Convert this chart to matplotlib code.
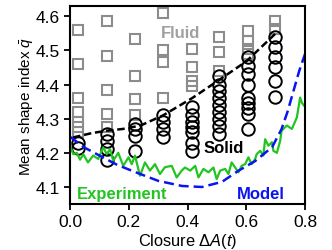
import matplotlib
matplotlib.use("Agg")
import matplotlib.pyplot as plt

plt.rcParams["font.family"] = ["Liberation Sans", "DejaVu Sans"]
plt.rcParams["mathtext.fontset"] = "custom"
plt.rcParams["mathtext.rm"] = "Liberation Sans"
plt.rcParams["mathtext.it"] = "Liberation Sans:italic"

# closure values of the simulation columns
cols = [0.027, 0.126, 0.221, 0.317, 0.415, 0.507, 0.606, 0.698]

# fluid states (squares), one list per column
fluid = [
    [4.56, 4.46, 4.36, 4.32, 4.29, 4.275, 4.26],
    [4.585, 4.483, 4.384, 4.313, 4.275],
    [4.533, 4.425, 4.357, 4.31],
    [4.61, 4.50, 4.465, 4.36],
    [4.503, 4.45, 4.41, 4.395],
    [4.54, 4.495, 4.44],
    [4.556, 4.527, 4.503, 4.49],
    [4.585, 4.562],
]

# solid states (circles)
solid = [
    [4.23, 4.215],
    [4.255, 4.235, 4.21, 4.18],
    [4.285, 4.27, 4.25, 4.205],
    [4.31, 4.29, 4.27, 4.245],
    [4.335, 4.31, 4.29, 4.275, 4.26, 4.23, 4.205],
    [4.425, 4.40, 4.38, 4.36, 4.34, 4.32, 4.30, 4.28, 4.255],
    [4.48, 4.455, 4.43, 4.40, 4.36, 4.345, 4.33, 4.315, 4.27],
    [4.54, 4.51, 4.48, 4.45, 4.41, 4.365],
]

# transition boundary
bx = [0.01, 0.075, 0.126, 0.18, 0.24, 0.317, 0.415, 0.51, 0.60, 0.70]
by = [4.245, 4.258, 4.265, 4.27, 4.28, 4.31, 4.36, 4.415, 4.468, 4.55]

# model curve
mx = [0, 0.05, 0.109, 0.16, 0.221, 0.30, 0.381, 0.449, 0.517, 0.572,
      0.63, 0.688, 0.72, 0.74, 0.76, 0.78, 0.8]
my = [4.247, 4.215, 4.188, 4.165, 4.144, 4.118, 4.103, 4.10, 4.115, 4.147,
      4.176, 4.217, 4.27, 4.32, 4.38, 4.44, 4.49]

# experiment
gx = [0, 0.011, 0.023, 0.034, 0.045, 0.061, 0.079, 0.096, 0.113, 0.125,
      0.136, 0.147, 0.164, 0.181, 0.199, 0.21, 0.221, 0.238, 0.255, 0.272,
      0.289, 0.306, 0.323, 0.346, 0.363, 0.38, 0.391, 0.409, 0.426, 0.437,
      0.454, 0.471, 0.488, 0.499, 0.511, 0.528, 0.539, 0.55, 0.562, 0.573,
      0.584, 0.596, 0.607, 0.618, 0.63, 0.635, 0.647, 0.658, 0.664, 0.675,
      0.687, 0.692, 0.704, 0.715, 0.72, 0.738, 0.755, 0.772, 0.783, 0.79, 0.8]
gy = [4.221, 4.196, 4.20, 4.18, 4.196, 4.172, 4.192, 4.182, 4.216, 4.196,
      4.211, 4.177, 4.20, 4.162, 4.187, 4.167, 4.192, 4.133, 4.172, 4.148,
      4.167, 4.138, 4.158, 4.162, 4.128, 4.148, 4.157, 4.148, 4.162, 4.128,
      4.153, 4.143, 4.157, 4.123, 4.148, 4.153, 4.138, 4.172, 4.157, 4.143,
      4.162, 4.167, 4.187, 4.167, 4.182, 4.196, 4.206, 4.192, 4.24, 4.221,
      4.231, 4.206, 4.20, 4.235, 4.265, 4.28, 4.27, 4.304, 4.362, 4.345, 4.335]

fig = plt.figure(figsize=(3.32, 2.51), dpi=100)
ax = fig.add_axes([0.211, 0.183, 0.708, 0.789])

for x, ys in zip(cols, fluid):
    ax.plot([x] * len(ys), ys, "s", ms=7.5, mfc="none", mec="#8c8c8c", mew=1.5)
for x, ys in zip(cols, solid):
    ax.plot([x] * len(ys), ys, "o", ms=9, mfc="none", mec="black", mew=1.4)

ax.plot(bx, by, "--", color="black", lw=1.8, dashes=(3, 1.5))
ax.plot(gx, gy, "-", color="#22c422", lw=1.6)
ax.plot(mx, my, "--", color="#0a14f0", lw=1.8, dashes=(4, 2))

ax.text(0.31, 4.552, "Fluid", color="#a0a0a0", fontsize=12, fontweight="bold", va="center")
ax.text(0.453, 4.217, "Solid", color="black", fontsize=12, fontweight="bold", va="center")
ax.text(0.024, 4.082, "Experiment", color="#22c422", fontsize=12, fontweight="bold", va="center")
ax.text(0.73, 4.08, "Model", color="#0a14f0", fontsize=12, fontweight="bold", va="center", ha="right")

ax.set_xlim(0, 0.8)
ax.set_ylim(4.05, 4.63)
ax.set_xticks([0.0, 0.2, 0.4, 0.6, 0.8])
ax.set_yticks([4.1, 4.2, 4.3, 4.4, 4.5, 4.6])
ax.tick_params(labelsize=12.5, width=1.3, length=4, top=False, right=False)
for s in ax.spines.values():
    s.set_linewidth(1.5)

ax.set_xlabel(r"Closure $\mathit{ΔA(t)}$", fontsize=11.8, labelpad=1)
ax.set_ylabel(r"Mean shape index $\bar{q}$", fontsize=11, labelpad=0)

fig.savefig("out.png", dpi=100)
